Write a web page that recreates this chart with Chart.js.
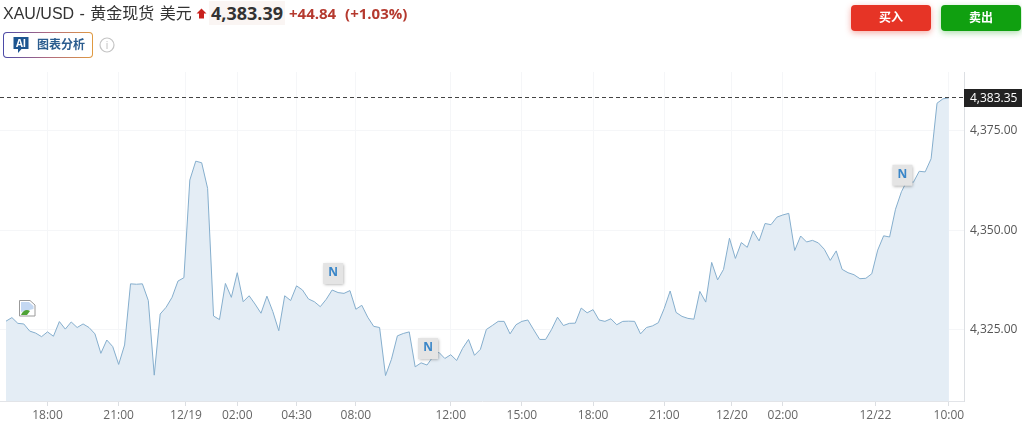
<!DOCTYPE html>
<html lang="zh">
<head>
<meta charset="utf-8">
<title>XAU/USD</title>
<script src="https://cdn.jsdelivr.net/npm/chart.js@4/dist/chart.umd.min.js"></script>
<style>
  html, body { margin: 0; padding: 0; background: #fff; overflow: hidden; }
  body { width: 1022px; height: 429px; position: relative; font-family: "Open Sans", "Noto Sans CJK SC", sans-serif; }
  canvas { position: absolute; left: 0; top: 0; }
  .abs { position: absolute; white-space: nowrap; }
  .title { left: 3px; top: 3px; font-family: "Liberation Sans", "Noto Sans CJK SC", sans-serif; font-size: 16px; line-height: 21px; color: #333; word-spacing: 1px; }
  .price { left: 209px; top: 1px; padding: 0 2px; font-size: 18px; line-height: 24px; font-weight: 700; color: #333; background: #faf5f3; }
  .change { left: 289px; top: 3px; font-size: 15px; line-height: 21px; font-weight: 700; color: #b5392e; word-spacing: 5px; }
  .ai { left: 3px; top: 32px; width: 88px; height: 24px; border: 1px solid transparent; border-radius: 4px; background: linear-gradient(#fff, #fff) padding-box, linear-gradient(90deg, #4a4aa8, #b06a80, #e09a40) border-box; }
  .ai span { position: absolute; left: 33px; top: 3px; font-size: 12px; line-height: 18px; font-weight: 700; color: #2b5c8f; }
  .btn { top: 5px; width: 80px; height: 26px; border-radius: 4px; color: #fff; font-size: 12px; font-weight: 700; line-height: 26px; text-align: center; }
  .buy { left: 851px; background: #e63426; box-shadow: 0 2px 6px rgba(230, 52, 38, .4); }
  .sell { left: 941px; background: #10a010; box-shadow: 0 2px 6px rgba(16, 160, 16, .35); }
</style>
</head>
<body>
<canvas id="goldChart" width="1022" height="429"></canvas>

<div class="abs title">XAU/USD - 黄金现货 美元</div>
<svg class="abs" style="left:196px;top:8px" width="11" height="11" viewBox="0 0 11 11"><path d="M5.5 0.5 L10.5 5.5 H8 V10.5 H3 V5.5 H0.5 Z" fill="#c8201c"/></svg>
<div class="abs price">4,383.39</div>
<div class="abs change">+44.84 (+1.03%)</div>

<div class="abs ai">
  <svg style="position:absolute;left:9px;top:3px" width="16" height="18" viewBox="0 0 16 18">
    <path d="M0.5 1 H15.5 V13 H8.5 L5 17 V13 H0.5 Z" fill="#1d5590"/>
    <text x="8" y="10.5" font-size="10" font-weight="700" fill="#fff" text-anchor="middle" font-family="Open Sans">AI</text>
  </svg>
  <span>图表分析</span>
</div>
<svg class="abs" style="left:99px;top:37px" width="16" height="16" viewBox="0 0 16 16">
  <circle cx="8" cy="8" r="7" fill="none" stroke="#c4c4c4" stroke-width="1.2"/>
  <text x="8" y="12" font-size="10" fill="#bbb" text-anchor="middle" font-family="Open Sans">i</text>
</svg>

<div class="abs btn buy">买入</div>
<div class="abs btn sell">卖出</div>

<svg class="abs" style="left:19px;top:300px" width="17" height="17" viewBox="0 0 17 17">
  <path d="M0.5 0.5 H11 L16 5 V16 H0.5 Z" fill="#fff" stroke="#9a9a9a"/>
  <path d="M2 2 H10 L14.5 6 V9 L2 12 Z" fill="#c4d8f2"/>
  <path d="M2 15 C4 10 8 9 11 11 L8 15 Z" fill="#4fa336"/>
</svg>

<script>
const prices = [
  4327.1, 4328.0, 4326.55, 4326.4, 4324.6, 4324.1, 4323.2, 4324.4, 4323.3, 4327.0,
  4325.1, 4326.9, 4325.5, 4326.4, 4325.5, 4323.9, 4319.0, 4322.35, 4320.7, 4316.2,
  4321.1, 4336.5, 4336.4, 4336.5, 4332.3, 4313.5, 4328.9, 4330.6, 4333.1, 4337.2,
  4338.05, 4362.65, 4367.4, 4367.0, 4360.55, 4328.4, 4327.5, 4336.6, 4333.1, 4339.3,
  4332.0, 4333.5,
  4331.4, 4329.1, 4333.4, 4329.5, 4324.7, 4333.5, 4332.3, 4336.0, 4334.95, 4332.7,
  4332.0, 4330.75, 4332.6, 4334.95, 4334.3, 4334.1, 4334.8, 4330.1, 4331.1, 4328.1,
  4325.8, 4325.5, 4313.4, 4317.5, 4323.4, 4324.0, 4324.4, 4315.6, 4316.6, 4316.05,
  4318.15, 4319.25, 4317.7, 4318.65, 4317.2, 4320.25, 4322.5, 4318.5, 4320.0, 4325.0,
  4326.0, 4327.05,
  4327.05, 4323.9, 4326.2, 4327.05, 4327.4, 4324.9, 4322.5, 4322.5, 4325.0, 4328.1,
  4326.0, 4326.55, 4326.6, 4330.4, 4329.2, 4330.0, 4327.4, 4327.05, 4327.7, 4326.2,
  4327.05, 4327.1, 4327.05, 4323.9, 4325.5, 4325.9, 4326.7, 4330.3, 4334.7, 4329.3,
  4328.3, 4327.8, 4327.6, 4334.6, 4331.9, 4341.9, 4337.5, 4340.15, 4348.0, 4342.9,
  4346.9, 4345.7,
  4349.8, 4347.3, 4351.7, 4351.4, 4353.3, 4353.85, 4354.25, 4344.9, 4348.55, 4347.05,
  4347.45, 4346.8, 4345.2, 4342.4, 4344.8, 4340.15, 4339.3, 4338.8, 4337.8, 4337.9,
  4339.05, 4345.0, 4348.6, 4348.3, 4355.3, 4359.7, 4362.65, 4362.05, 4364.85, 4364.7,
  4368.0, 4382.0, 4383.1, 4383.35
];

// x positions of the time labels, in data points from the start of the series
const timeTicks = [7, 19, 30.35, 39, 49, 59, 75, 87, 99, 111, 122.4, 131, 146.6, 159];
const timeLabels = ['18:00', '21:00', '12/19', '02:00', '04:30', '08:00', '12:00', '15:00', '18:00', '21:00', '12/20', '02:00', '12/22', '10:00'];
const priceTicks = [4325, 4350, 4375];
const lastPrice = 4383.35;
const newsPoints = [55, 71, 151];

const FONT = '"Open Sans", sans-serif';

// dashed last-price line + black tag on the axis
const lastPricePlugin = {
  id: 'lastPrice',
  afterDraw(chart) {
    const { ctx, chartArea, scales } = chart;
    const y = Math.round(scales.y.getPixelForValue(lastPrice)) - 0.5;
    ctx.save();
    ctx.strokeStyle = '#444';
    ctx.lineWidth = 1;
    ctx.setLineDash([4, 3]);
    ctx.beginPath();
    ctx.moveTo(chartArea.left, y);
    ctx.lineTo(chartArea.right, y);
    ctx.stroke();
    ctx.setLineDash([]);
    ctx.fillStyle = '#222';
    ctx.fillRect(chartArea.right, y - 8.5, 58, 18);
    ctx.fillStyle = '#fff';
    ctx.font = '12px ' + FONT;
    ctx.textBaseline = 'middle';
    ctx.textAlign = 'left';
    ctx.fillText(lastPrice.toLocaleString('en-US', { minimumFractionDigits: 2 }), chartArea.right + 6, y + 1);
    ctx.restore();
  }
};

// grey "N" news flags sitting just over their data point
const newsPlugin = {
  id: 'newsFlags',
  afterDatasetsDraw(chart) {
    const { ctx, scales } = chart;
    newsPoints.forEach(i => {
      const px = scales.x.getPixelForValue(i);
      const py = scales.y.getPixelForValue(prices[i]);
      ctx.save();
      ctx.shadowColor = 'rgba(0,0,0,.35)';
      ctx.shadowBlur = 3;
      ctx.shadowOffsetX = 1;
      ctx.shadowOffsetY = 1;
      ctx.fillStyle = '#e4e4e4';
      ctx.fillRect(px - 9, py - 27, 20, 21);
      ctx.restore();
      ctx.save();
      ctx.fillStyle = '#3a86c8';
      ctx.font = 'bold 12px ' + FONT;
      ctx.textAlign = 'center';
      ctx.textBaseline = 'middle';
      ctx.fillText('N', px + 1, py - 17);
      ctx.restore();
    });
  }
};

new Chart(document.getElementById('goldChart'), {
  type: 'line',
  data: {
    datasets: [{
      data: prices.map((p, i) => ({ x: i, y: p })),
      borderColor: '#85aecd',
      borderWidth: 1,
      backgroundColor: '#e4edf5',
      fill: 'start',
      tension: 0,
      pointRadius: 0
    }]
  },
  options: {
    responsive: false,
    animation: false,
    layout: { padding: { top: 72 } },
    plugins: { legend: { display: false }, tooltip: { enabled: false } },
    scales: {
      x: {
        type: 'linear',
        min: -1.01,
        max: 161.55,
        afterBuildTicks: scale => { scale.ticks = timeTicks.map(v => ({ value: v })); },
        afterFit: scale => { scale.height = 28; },
        grid: { color: '#f5f6f8', tickColor: '#dcdfe3', tickLength: 5 },
        border: { color: '#e2e4e8' },
        ticks: {
          autoSkip: false,
          maxRotation: 0,
          padding: 2,
          color: '#666',
          font: { family: FONT, size: 12 },
          callback: v => timeLabels[timeTicks.indexOf(v)]
        }
      },
      y: {
        position: 'right',
        min: 4306.99,
        max: 4389.86,
        afterBuildTicks: scale => { scale.ticks = priceTicks.map(v => ({ value: v })); },
        afterFit: scale => { scale.width = 58; },
        grid: { color: '#f5f6f8', drawTicks: false },
        border: { color: '#dcdfe3' },
        ticks: {
          padding: 6,
          color: '#555',
          font: { family: FONT, size: 12 },
          callback: v => v.toLocaleString('en-US', { minimumFractionDigits: 2 })
        }
      }
    }
  },
  plugins: [newsPlugin, lastPricePlugin]
});
</script>
</body>
</html>
